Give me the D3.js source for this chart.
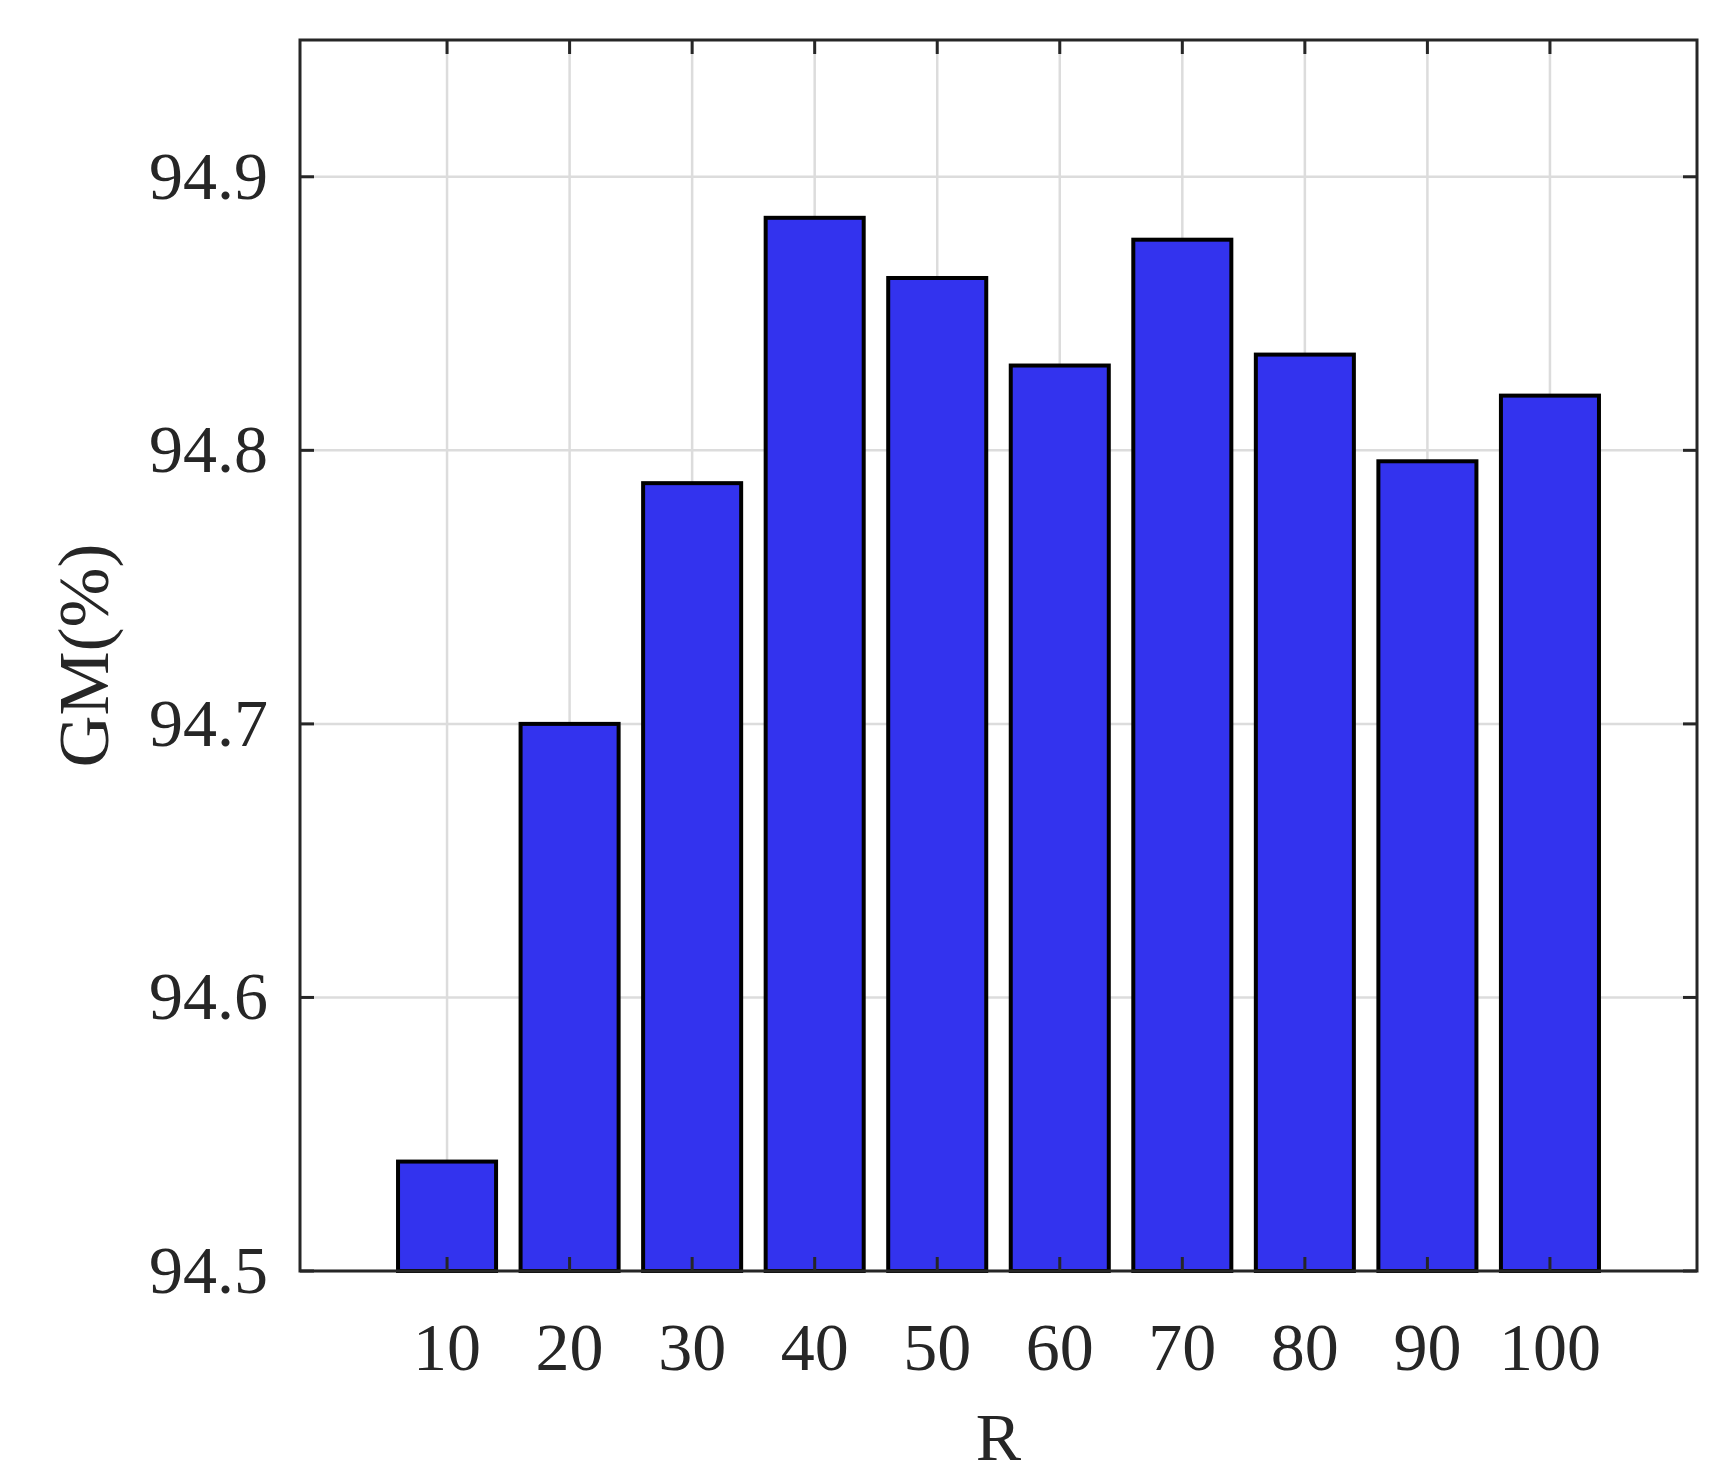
<!DOCTYPE html>
<html><head><meta charset="utf-8">
<script src="https://cdn.jsdelivr.net/npm/d3@7"></script>
<style>body{margin:0;background:#fff}text{font-family:"Liberation Serif",Tinos,"Times New Roman",Times,serif;fill:#262626}</style>
</head><body><svg id="chart" width="1728" height="1479"></svg>
<script>
// data
const categories = [10, 20, 30, 40, 50, 60, 70, 80, 90, 100];
const gmValues = [94.54, 94.70, 94.788, 94.885, 94.863, 94.831, 94.877, 94.835, 94.796, 94.820];
const yTicks = [94.5, 94.6, 94.7, 94.8, 94.9];

const svg = d3.select("#chart");
const m = {left: 300, top: 40, right: 1697, bottom: 1271};
const x = d3.scaleLinear().domain([-2, 112]).range([m.left, m.right]);
const y = d3.scaleLinear().domain([94.5, 94.95]).range([m.bottom, m.top]);
const w = 0.8 * (x(10) - x(0));

// grid
svg.append("g").selectAll("line").data(categories).enter().append("line")
    .attr("x1", d => x(d)).attr("x2", d => x(d)).attr("y1", m.top).attr("y2", m.bottom)
    .attr("stroke", "#dcdcdc").attr("stroke-width", 2.5);
svg.append("g").selectAll("line").data(yTicks).enter().append("line")
    .attr("x1", m.left).attr("x2", m.right).attr("y1", d => y(d)).attr("y2", d => y(d))
    .attr("stroke", "#dcdcdc").attr("stroke-width", 2.5);

// bars
svg.append("g").selectAll("rect").data(gmValues).enter().append("rect")
    .attr("x", (d, i) => x(categories[i]) - w / 2)
    .attr("width", w)
    .attr("y", d => y(d))
    .attr("height", d => y(94.5) - y(d))
    .attr("fill", "#3333ee").attr("stroke", "#000").attr("stroke-width", 4);

// ticks, inward on all sides
const tl = 14;
const tk = svg.append("g").attr("stroke", "#262626").attr("stroke-width", 3);
categories.forEach(c => {
    tk.append("line").attr("x1", x(c)).attr("x2", x(c)).attr("y1", m.bottom).attr("y2", m.bottom - tl);
    tk.append("line").attr("x1", x(c)).attr("x2", x(c)).attr("y1", m.top).attr("y2", m.top + tl);
});
yTicks.forEach(t => {
    tk.append("line").attr("x1", m.left).attr("x2", m.left + tl).attr("y1", y(t)).attr("y2", y(t));
    tk.append("line").attr("x1", m.right).attr("x2", m.right - tl).attr("y1", y(t)).attr("y2", y(t));
});

// frame
svg.append("rect").attr("x", m.left).attr("y", m.top)
    .attr("width", m.right - m.left).attr("height", m.bottom - m.top)
    .attr("fill", "none").attr("stroke", "#262626").attr("stroke-width", 3);

// labels
svg.append("g").selectAll("text").data(categories).enter().append("text")
    .attr("x", d => x(d)).attr("y", 1370).attr("text-anchor", "middle")
    .attr("font-size", 68).text(d => d);
svg.append("g").selectAll("text").data(yTicks).enter().append("text")
    .attr("x", 268).attr("y", d => y(d) + 22).attr("text-anchor", "end")
    .attr("font-size", 68).text(d => d.toFixed(1));
svg.append("text").attr("x", (m.left + m.right) / 2).attr("y", 1460)
    .attr("text-anchor", "middle").attr("font-size", 68).text("R");
svg.append("text").attr("transform", `translate(108,${(m.top + m.bottom) / 2}) rotate(-90)`)
    .attr("text-anchor", "middle").attr("font-size", 72).text("GM(%)");
</script></body></html>
